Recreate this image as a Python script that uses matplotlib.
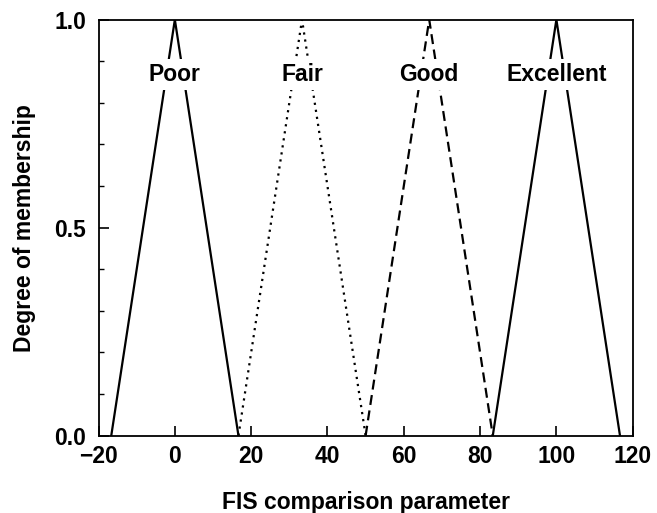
import matplotlib
matplotlib.use("Agg")
import matplotlib.pyplot as plt
from matplotlib.ticker import MultipleLocator

plt.rcParams['font.family'] = ['Liberation Sans', 'DejaVu Sans']
plt.rcParams['font.weight'] = 'bold'

# Data: triangular membership functions (left foot, peak, right foot)
categories = ["Poor", "Fair", "Good", "Excellent"]
feet_left = [-16.67, 16.67, 50.0, 83.33]
peaks = [0.0, 33.33, 66.67, 100.0]
feet_right = [16.67, 50.0, 83.33, 116.67]
membership = [0.0, 1.0, 0.0]
label_y = 0.853
x_ticks = [-20, 0, 20, 40, 60, 80, 100, 120]
y_ticks = [0.0, 0.5, 1.0]

FS = 16.5
styles = [dict(ls='-', lw=1.6),
          dict(ls=(0, (1, 2.2)), lw=1.6),
          dict(ls=(0, (4.5, 2.5)), lw=1.6),
          dict(ls='-', lw=1.6)]

fig = plt.figure(figsize=(6.57, 5.13), dpi=100)
ax = fig.add_axes([0.150, 0.1507, 0.813, 0.811])

for cat, a, b, c, st in zip(categories, feet_left, peaks, feet_right, styles):
    ax.plot([a, b, c], membership, color='black', zorder=2, **st)
    ax.text(b, label_y, cat, ha='center', va='baseline', fontsize=FS,
            fontweight='bold', zorder=3,
            bbox=dict(facecolor='white', edgecolor='none', pad=3))

ax.set_xlim(-20, 120)
ax.set_ylim(0, 1)
ax.set_xticks(x_ticks)
ax.set_xticklabels(["\u221220" if t < 0 else str(t) for t in x_ticks])
ax.set_yticks(y_ticks)
ax.set_yticklabels([f"{t:.1f}" for t in y_ticks])
ax.yaxis.set_minor_locator(MultipleLocator(0.1))
ax.tick_params(axis='x', which='major', direction='in', length=7, width=1.2,
               labelsize=FS, pad=7)
ax.tick_params(axis='y', which='major', direction='in', length=7, width=1.2,
               labelsize=FS, pad=9)
ax.tick_params(axis='y', which='minor', direction='in', length=3.5, width=1.0)
for s in ax.spines.values():
    s.set_linewidth(1.3)

ax.set_xlabel("FIS comparison parameter", fontsize=FS, fontweight='bold', labelpad=16)
ax.set_ylabel("Degree of membership", fontsize=FS, fontweight='bold', labelpad=13)

fig.savefig("out.png", dpi=100)
